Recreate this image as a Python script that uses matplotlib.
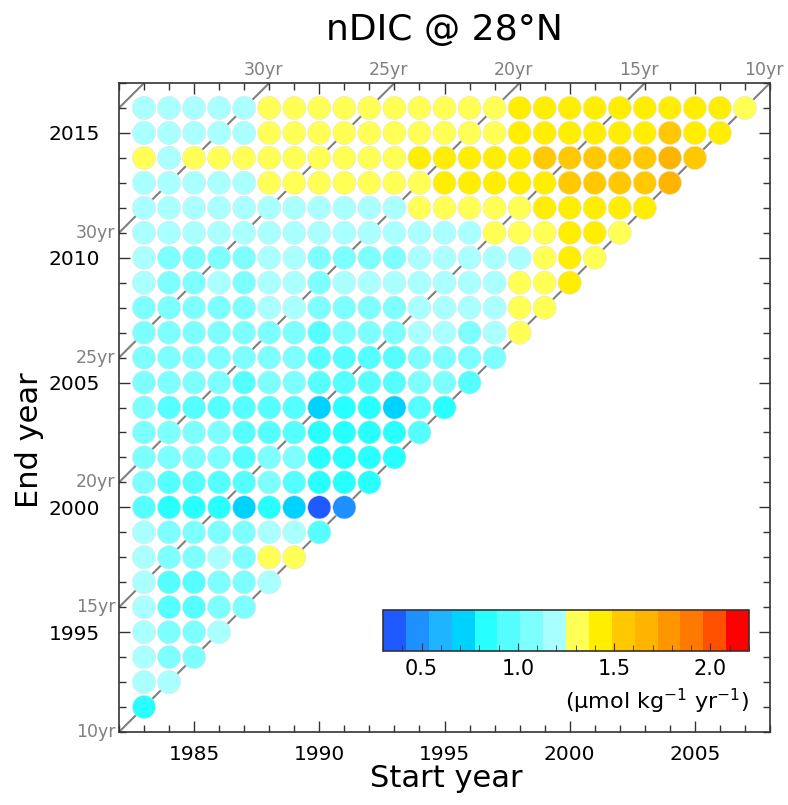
import numpy as np
import matplotlib
matplotlib.use('Agg')
from matplotlib import pyplot as plt
from matplotlib.colors import ListedColormap, BoundaryNorm
from matplotlib.ticker import MultipleLocator

plt.rcParams['font.family'] = ['DejaVu Sans']

# colour classes (16 steps, 0.3 .. 2.2)
bar_colors = ['#1e5aff', '#1e90ff', '#1eb4ff', '#00d2ff', '#28ffff', '#55ffff',
              '#7dffff', '#aaffff', '#ffff55', '#ffee00', '#ffc800', '#ffb400',
              '#ff9600', '#ff7800', '#ff5000', '#ff0000']
bounds = np.linspace(0.3, 2.2, 17)

first_start = 1983
durations = [10, 15, 20, 25, 30, 35]   # diagonal guide lines (years)
labelled = [10, 15, 20, 25, 30]

# nDIC trend (umol/kg/yr) by end year, start years 1983, 1984, ...
rate_2016 = [1.19, 1.19, 1.19, 1.19, 1.19, 1.31, 1.31, 1.31, 1.31, 1.31, 1.31, 1.31, 1.31,
             1.31, 1.31, 1.43, 1.43, 1.43, 1.43, 1.43, 1.43, 1.43, 1.43, 1.43, 1.31]
rate_2015 = [1.19, 1.19, 1.19, 1.19, 1.19, 1.31, 1.31, 1.31, 1.31, 1.31, 1.31, 1.31, 1.31,
             1.31, 1.31, 1.43, 1.43, 1.43, 1.43, 1.43, 1.43, 1.55, 1.43, 1.43]
rate_2014 = [1.31, 1.19, 1.31, 1.31, 1.31, 1.31, 1.31, 1.31, 1.31, 1.31, 1.31, 1.43, 1.43,
             1.43, 1.43, 1.43, 1.55, 1.55, 1.55, 1.55, 1.55, 1.67, 1.55]
rate_2013 = [1.19, 1.19, 1.19, 1.19, 1.19, 1.31, 1.31, 1.31, 1.31, 1.31, 1.31, 1.31, 1.43,
             1.43, 1.43, 1.43, 1.43, 1.55, 1.55, 1.55, 1.55, 1.67]
rate_2012 = [1.19, 1.19, 1.19, 1.19, 1.19, 1.19, 1.19, 1.19, 1.19, 1.19, 1.19, 1.31, 1.31,
             1.31, 1.31, 1.31, 1.43, 1.43, 1.43, 1.43, 1.43]
rate_2011 = [1.19, 1.19, 1.19, 1.19, 1.19, 1.19, 1.19, 1.19, 1.19, 1.19, 1.19, 1.19, 1.19,
             1.19, 1.31, 1.31, 1.31, 1.43, 1.43, 1.31]
rate_2010 = [1.19, 1.07, 1.07, 1.07, 1.07, 1.19, 1.19, 1.07, 1.07, 1.07, 1.07, 1.19, 1.19,
             1.19, 1.19, 1.19, 1.31, 1.43, 1.31]
rate_2009 = [1.19, 1.07, 1.07, 1.19, 1.07, 1.19, 1.19, 1.07, 1.19, 1.19, 1.19, 1.19, 1.19,
             1.19, 1.19, 1.31, 1.31, 1.43]
rate_2008 = [1.07, 1.07, 1.07, 1.07, 1.07, 1.19, 1.19, 1.07, 1.07, 1.07, 1.07, 1.19, 1.19,
             1.19, 1.19, 1.31, 1.31]
rate_2007 = [1.07, 1.07, 1.07, 1.07, 1.07, 1.07, 1.07, 0.95, 1.07, 1.07, 1.07, 1.19, 1.19,
             1.07, 1.19, 1.31]
rate_2006 = [1.07, 1.07, 1.07, 1.07, 1.07, 1.07, 1.07, 0.95, 0.95, 0.95, 0.95, 1.07, 1.07,
             1.07, 1.07]
rate_2005 = [1.07, 1.07, 1.07, 1.07, 0.95, 1.07, 1.07, 0.95, 0.95, 0.95, 0.95, 1.07, 1.07,
             0.95]
rate_2004 = [1.07, 0.95, 0.95, 0.95, 0.95, 0.95, 0.95, 0.72, 0.83, 0.83, 0.72, 0.95, 0.83]
rate_2003 = [1.07, 1.07, 1.07, 1.07, 0.95, 0.95, 0.95, 0.83, 0.83, 0.83, 0.83, 0.95]
rate_2002 = [1.07, 1.07, 1.07, 1.07, 0.95, 1.07, 1.07, 0.83, 0.83, 0.83, 0.83]
rate_2001 = [1.07, 0.95, 0.95, 0.95, 0.95, 1.07, 0.95, 0.83, 0.83, 0.83]
rate_2000 = [0.95, 0.83, 0.83, 0.83, 0.72, 0.83, 0.72, 0.36, 0.48]
rate_1999 = [1.19, 1.07, 1.07, 1.07, 1.07, 1.19, 1.19, 0.95]
rate_1998 = [1.19, 1.07, 1.07, 1.19, 1.07, 1.31, 1.31]
rate_1997 = [1.19, 0.95, 0.95, 1.07, 1.07, 1.19]
rate_1996 = [1.19, 0.95, 0.95, 1.07, 1.07]
rate_1995 = [1.19, 1.07, 1.07, 1.19]
rate_1994 = [1.19, 1.07, 1.07]
rate_1993 = [1.19, 1.19]
rate_1992 = [0.83]

rows = {2016: rate_2016, 2015: rate_2015, 2014: rate_2014, 2013: rate_2013,
        2012: rate_2012, 2011: rate_2011, 2010: rate_2010, 2009: rate_2009,
        2008: rate_2008, 2007: rate_2007, 2006: rate_2006, 2005: rate_2005,
        2004: rate_2004, 2003: rate_2003, 2002: rate_2002, 2001: rate_2001,
        2000: rate_2000, 1999: rate_1999, 1998: rate_1998, 1997: rate_1997,
        1996: rate_1996, 1995: rate_1995, 1994: rate_1994, 1993: rate_1993,
        1992: rate_1992}

xs, ys, vals = [], [], []
for end, row in rows.items():
    for i, v in enumerate(row):
        xs.append(first_start + i)
        ys.append(end)
        vals.append(v)

cmap = ListedColormap(bar_colors)
norm = BoundaryNorm(bounds, cmap.N)

W, H = 788, 805
fig = plt.figure(figsize=(W / 100, H / 100), dpi=100)
ax = fig.add_axes([119 / W, 1 - 732 / H, 651 / W, 649 / H])
x0, x1, y0, y1 = 1982, 2008, 1991, 2017
ax.set_xlim(x0, x1)
ax.set_ylim(y0, y1)

# diagonal guide lines: end = start + (d - 1)
gray = '#808080'
for d in durations:
    xx = np.array([x0, x1])
    ax.plot(xx, xx + d - 1, color=gray, lw=1.5, zorder=1, clip_on=True)
for d in labelled:
    ax.text(y1 - (d - 1) - 0.25, y1 + 0.15, '%dyr' % d, color=gray, fontsize=12.5,
            ha='center', va='bottom', clip_on=False)
    ax.text(x0 - 0.15, x0 + d - 1, '%dyr' % d, color=gray, fontsize=12.5,
            ha='right', va='center', clip_on=False)

sc = ax.scatter(xs, ys, c=vals, cmap=cmap, norm=norm, s=280, zorder=2,
                edgecolors='#e4e4e4', linewidths=0.4)

ax.xaxis.set_major_locator(MultipleLocator(5))
ax.xaxis.set_minor_locator(MultipleLocator(1))
ax.yaxis.set_major_locator(MultipleLocator(5))
ax.yaxis.set_minor_locator(MultipleLocator(1))
ax.tick_params(which='both', direction='in', top=True, right=True, colors='#333333',
               labelcolor='black', labelsize=14.5)
ax.tick_params(which='major', length=8, width=1)
ax.tick_params(which='minor', length=5, width=1)
ax.tick_params(axis='y', pad=14)
ax.tick_params(axis='x', pad=9)
for s in ax.spines.values():
    s.set_color('#333333')
    s.set_linewidth(1.2)

fig.text(444 / W, 1 - 30 / H, 'nDIC @ 28°N', fontsize=26, ha='center', va='center')
fig.text(446 / W, 1 - 778 / H, 'Start year', fontsize=22, ha='center', va='center')
fig.text(30 / W, 1 - 440 / H, 'End year', fontsize=22, ha='center', va='center',
         rotation=90)

# colorbar
cax = fig.add_axes([383 / W, 1 - 651 / H, 366 / W, 41 / H])
cb = fig.colorbar(sc, cax=cax, orientation='horizontal', spacing='proportional',
                  ticks=[0.5, 1.0, 1.5, 2.0])
cb.outline.set_linewidth(1.2)
cb.outline.set_edgecolor('#333333')
cax.xaxis.set_minor_locator(MultipleLocator(0.1))
cax.tick_params(which='both', direction='in', colors='#333333', labelcolor='black',
                labelsize=15, pad=6)
cax.tick_params(which='major', length=6)
cax.tick_params(which='minor', length=4)
cax.set_xticklabels(['0.5', '1.0', '1.5', '2.0'])
cax.text(1.0, -1.22, '(µmol kg$^{-1}$ yr$^{-1}$)', transform=cax.transAxes,
         fontsize=16, ha='right', va='center')

fig.savefig('out.png', dpi=100)
